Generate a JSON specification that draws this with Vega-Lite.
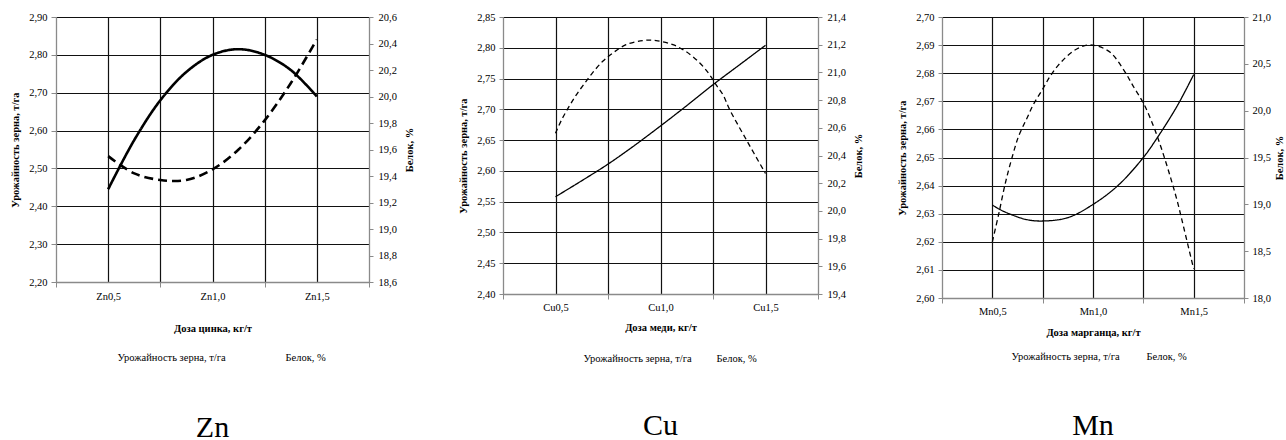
{
  "$schema": "https://vega.github.io/schema/vega-lite/v6.json",
  "background": "white",
  "padding": {"left": 10, "top": 12, "right": 0, "bottom": 0},
  "spacing": 33,
  "datasets": {
    "zn": [
      {"x": 0.5, "s": "Урожайность зерна, т/га", "v": 2.445},
      {"x": 0.625, "s": "Урожайность зерна, т/га", "v": 2.575},
      {"x": 0.75, "s": "Урожайность зерна, т/га", "v": 2.68},
      {"x": 0.875, "s": "Урожайность зерна, т/га", "v": 2.755},
      {"x": 1.0, "s": "Урожайность зерна, т/га", "v": 2.8},
      {"x": 1.125, "s": "Урожайность зерна, т/га", "v": 2.815},
      {"x": 1.25, "s": "Урожайность зерна, т/га", "v": 2.8},
      {"x": 1.375, "s": "Урожайность зерна, т/га", "v": 2.76},
      {"x": 1.5, "s": "Урожайность зерна, т/га", "v": 2.69},
      {"x": 0.5, "s": "Белок, %", "v": 19.55},
      {"x": 0.625, "s": "Белок, %", "v": 19.42},
      {"x": 0.75, "s": "Белок, %", "v": 19.37},
      {"x": 0.875, "s": "Белок, %", "v": 19.37},
      {"x": 1.0, "s": "Белок, %", "v": 19.45},
      {"x": 1.125, "s": "Белок, %", "v": 19.6},
      {"x": 1.25, "s": "Белок, %", "v": 19.82},
      {"x": 1.375, "s": "Белок, %", "v": 20.1},
      {"x": 1.5, "s": "Белок, %", "v": 20.43}
    ],
    "cu": [
      {"x": 0.5, "s": "Урожайность зерна, т/га", "v": 2.558},
      {"x": 0.625, "s": "Урожайность зерна, т/га", "v": 2.584},
      {"x": 0.75, "s": "Урожайность зерна, т/га", "v": 2.611},
      {"x": 0.875, "s": "Урожайность зерна, т/га", "v": 2.641},
      {"x": 1.0, "s": "Урожайность зерна, т/га", "v": 2.673},
      {"x": 1.125, "s": "Урожайность зерна, т/га", "v": 2.706},
      {"x": 1.25, "s": "Урожайность зерна, т/га", "v": 2.74},
      {"x": 1.375, "s": "Урожайность зерна, т/га", "v": 2.772},
      {"x": 1.5, "s": "Урожайность зерна, т/га", "v": 2.804},
      {"x": 0.5, "s": "Белок, %", "v": 20.56},
      {"x": 0.53, "s": "Белок, %", "v": 20.66},
      {"x": 0.567, "s": "Белок, %", "v": 20.76},
      {"x": 0.6, "s": "Белок, %", "v": 20.84},
      {"x": 0.638, "s": "Белок, %", "v": 20.92},
      {"x": 0.678, "s": "Белок, %", "v": 21.0},
      {"x": 0.725, "s": "Белок, %", "v": 21.08},
      {"x": 0.773, "s": "Белок, %", "v": 21.14},
      {"x": 0.836, "s": "Белок, %", "v": 21.2},
      {"x": 0.916, "s": "Белок, %", "v": 21.23},
      {"x": 0.979, "s": "Белок, %", "v": 21.23},
      {"x": 1.059, "s": "Белок, %", "v": 21.2},
      {"x": 1.122, "s": "Белок, %", "v": 21.15},
      {"x": 1.186, "s": "Белок, %", "v": 21.07},
      {"x": 1.233, "s": "Белок, %", "v": 20.985},
      {"x": 1.265, "s": "Белок, %", "v": 20.91},
      {"x": 1.297, "s": "Белок, %", "v": 20.84},
      {"x": 1.33, "s": "Белок, %", "v": 20.73},
      {"x": 1.41, "s": "Белок, %", "v": 20.51},
      {"x": 1.5, "s": "Белок, %", "v": 20.27}
    ],
    "mn": [
      {"x": 0.5, "s": "Урожайность зерна, т/га", "v": 2.6331},
      {"x": 0.54, "s": "Урожайность зерна, т/га", "v": 2.6314},
      {"x": 0.59, "s": "Урожайность зерна, т/га", "v": 2.6298},
      {"x": 0.67, "s": "Урожайность зерна, т/га", "v": 2.6279},
      {"x": 0.75, "s": "Урожайность зерна, т/га", "v": 2.6274},
      {"x": 0.875, "s": "Урожайность зерна, т/га", "v": 2.6286},
      {"x": 1.0, "s": "Урожайность зерна, т/га", "v": 2.6333},
      {"x": 1.125, "s": "Урожайность зерна, т/га", "v": 2.6401},
      {"x": 1.25, "s": "Урожайность зерна, т/га", "v": 2.65},
      {"x": 1.318, "s": "Урожайность зерна, т/га", "v": 2.6569},
      {"x": 1.417, "s": "Урожайность зерна, т/га", "v": 2.6682},
      {"x": 1.5, "s": "Урожайность зерна, т/га", "v": 2.6795},
      {"x": 0.5, "s": "Белок, %", "v": 18.6},
      {"x": 0.531, "s": "Белок, %", "v": 18.89},
      {"x": 0.565, "s": "Белок, %", "v": 19.23},
      {"x": 0.598, "s": "Белок, %", "v": 19.5},
      {"x": 0.631, "s": "Белок, %", "v": 19.73},
      {"x": 0.672, "s": "Белок, %", "v": 19.92},
      {"x": 0.705, "s": "Белок, %", "v": 20.07},
      {"x": 0.75, "s": "Белок, %", "v": 20.23},
      {"x": 0.788, "s": "Белок, %", "v": 20.37},
      {"x": 0.838, "s": "Белок, %", "v": 20.51},
      {"x": 0.905, "s": "Белок, %", "v": 20.64},
      {"x": 0.972, "s": "Белок, %", "v": 20.7},
      {"x": 1.021, "s": "Белок, %", "v": 20.69},
      {"x": 1.087, "s": "Белок, %", "v": 20.62},
      {"x": 1.154, "s": "Белок, %", "v": 20.43},
      {"x": 1.203, "s": "Белок, %", "v": 20.25},
      {"x": 1.253, "s": "Белок, %", "v": 20.07},
      {"x": 1.303, "s": "Белок, %", "v": 19.82},
      {"x": 1.344, "s": "Белок, %", "v": 19.57},
      {"x": 1.386, "s": "Белок, %", "v": 19.28},
      {"x": 1.419, "s": "Белок, %", "v": 19.03},
      {"x": 1.452, "s": "Белок, %", "v": 18.74},
      {"x": 1.5, "s": "Белок, %", "v": 18.31}
    ]
  },
  "hconcat": [
    {
      "spacing": 43,
      "resolve": {"scale": {"strokeDash": "independent"}, "legend": {"strokeDash": "independent"}},
      "hconcat": [
        {
          "width": 313, "height": 265,
          "data": {"name": "zn"},
          "title": {"text": "Zn", "orient": "bottom", "anchor": "middle", "font": "Liberation Serif", "fontSize": 30, "fontWeight": "normal", "color": "black", "offset": 48.5},
          "encoding": {
            "x": {"field": "x", "type": "quantitative", "scale": {"domain": [0.25, 1.75], "nice": false, "zero": false},
              "axis": {"values": [0.25, 0.5, 0.75, 1, 1.25, 1.5, 1.75],
                "labelExpr": "(datum.value*4)%2==0 ? 'Zn'+replace(format(datum.value,'.1f'),'.',',') : ''",
                "title": "Доза цинка, кг/т", "titlePadding": 22, "grid": true,
                "gridOpacity": {"condition": {"test": "datum.value==0.25||datum.value==1.75", "value": 0}, "value": 1},
                "tickOpacity": {"condition": {"test": "(datum.value*4)%2==0", "value": 0}, "value": 1},
                "tickSize": 5, "labelPadding": 4}}
          },
          "layer": [
            {
              "transform": [{"filter": "datum.s=='Урожайность зерна, т/га'"}],
              "mark": {"type": "line", "interpolate": "catmull-rom", "color": "black", "strokeWidth": 2.6},
              "encoding": {
                "y": {"field": "v", "type": "quantitative", "scale": {"domain": [2.2, 2.9], "nice": false, "zero": false},
                  "axis": {"orient": "left", "values": [2.2, 2.3, 2.4, 2.5, 2.6, 2.7, 2.8, 2.9], "labelExpr": "replace(format(datum.value,'.2f'),'.',',')",
                    "title": "Урожайность зерна, т/га", "titlePadding": 8, "grid": true, "tickSize": 5, "labelPadding": 4}},
                "strokeDash": {"field": "s", "type": "nominal", "scale": {"domain": ["Урожайность зерна, т/га", "Белок, %"], "range": [[1, 0], [9, 5]]},
                  "legend": {"orient": "none", "legendX": 51, "legendY": 336, "direction": "horizontal", "title": null, "columnPadding": 49, "symbolSize": 0, "symbolStrokeWidth": 0, "symbolOpacity": 0, "labelOffset": 0, "padding": 0}}
              }
            },
            {
              "transform": [{"filter": "datum.s=='Белок, %'"}],
              "mark": {"type": "line", "interpolate": "catmull-rom", "color": "black", "strokeWidth": 2.6},
              "encoding": {
                "y": {"field": "v", "type": "quantitative", "scale": {"domain": [18.6, 20.6], "nice": false, "zero": false},
                  "axis": {"orient": "right", "values": [18.6, 18.8, 19.0, 19.2, 19.4, 19.6, 19.8, 20.0, 20.2, 20.4, 20.6], "labelExpr": "replace(format(datum.value,'.1f'),'.',',')",
                    "title": "Белок, %", "titleAngle": 270, "titleBaseline": "top", "titlePadding": 8, "grid": false, "tickSize": 4, "labelPadding": 5}},
                "strokeDash": {"field": "s", "type": "nominal"}
              }
            }
          ],
          "resolve": {"scale": {"y": "independent"}}
        },
        {
          "width": 315, "height": 277,
          "data": {"name": "cu"},
          "title": {"text": "Cu", "orient": "bottom", "anchor": "middle", "font": "Liberation Serif", "fontSize": 30, "fontWeight": "normal", "color": "black", "offset": 45.5},
          "encoding": {
            "x": {"field": "x", "type": "quantitative", "scale": {"domain": [0.25, 1.75], "nice": false, "zero": false},
              "axis": {"values": [0.25, 0.5, 0.75, 1, 1.25, 1.5, 1.75],
                "labelExpr": "(datum.value*4)%2==0 ? 'Cu'+replace(format(datum.value,'.1f'),'.',',') : ''",
                "title": "Доза меди, кг/т", "titlePadding": 10, "grid": true,
                "gridOpacity": {"condition": {"test": "datum.value==0.25||datum.value==1.75", "value": 0}, "value": 1},
                "tickOpacity": {"condition": {"test": "(datum.value*4)%2==0", "value": 0}, "value": 1},
                "tickSize": 5, "labelPadding": 3}}
          },
          "layer": [
            {
              "transform": [{"filter": "datum.s=='Урожайность зерна, т/га'"}],
              "mark": {"type": "line", "interpolate": "catmull-rom", "color": "black", "strokeWidth": 1.3},
              "encoding": {
                "y": {"field": "v", "type": "quantitative", "scale": {"domain": [2.4, 2.85], "nice": false, "zero": false},
                  "axis": {"orient": "left", "values": [2.4, 2.45, 2.5, 2.55, 2.6, 2.65, 2.7, 2.75, 2.8, 2.85], "labelExpr": "replace(format(datum.value,'.2f'),'.',',')",
                    "title": "Урожайность зерна, т/га", "titlePadding": 8, "grid": true, "tickSize": 4, "labelPadding": 4}},
                "strokeDash": {"field": "s", "type": "nominal", "scale": {"domain": ["Урожайность зерна, т/га", "Белок, %"], "range": [[1, 0], [5, 3.5]]},
                  "legend": {"orient": "none", "legendX": 70, "legendY": 337, "direction": "horizontal", "title": null, "columnPadding": 14, "symbolSize": 0, "symbolStrokeWidth": 0, "symbolOpacity": 0, "labelOffset": 0, "padding": 0}}
              }
            },
            {
              "transform": [{"filter": "datum.s=='Белок, %'"}],
              "mark": {"type": "line", "interpolate": "catmull-rom", "color": "black", "strokeWidth": 1.3},
              "encoding": {
                "y": {"field": "v", "type": "quantitative", "scale": {"domain": [19.4, 21.4], "nice": false, "zero": false},
                  "axis": {"orient": "right", "values": [19.4, 19.6, 19.8, 20.0, 20.2, 20.4, 20.6, 20.8, 21.0, 21.2, 21.4], "labelExpr": "replace(format(datum.value,'.1f'),'.',',')",
                    "title": "Белок, %", "titleAngle": 270, "titleBaseline": "top", "titlePadding": 8, "grid": false, "tickSize": 4, "labelPadding": 5}},
                "strokeDash": {"field": "s", "type": "nominal"}
              }
            }
          ],
          "resolve": {"scale": {"y": "independent"}}
        }
      ]
    },
    {
      "width": 302, "height": 281,
      "data": {"name": "mn"},
      "title": {"text": "Mn", "orient": "bottom", "anchor": "middle", "font": "Liberation Serif", "fontSize": 30, "fontWeight": "normal", "color": "black", "offset": 47.5},
      "encoding": {
        "x": {"field": "x", "type": "quantitative", "scale": {"domain": [0.25, 1.75], "nice": false, "zero": false},
          "axis": {"values": [0.25, 0.5, 0.75, 1, 1.25, 1.5, 1.75],
            "labelExpr": "(datum.value*4)%2==0 ? 'Mn'+replace(format(datum.value,'.1f'),'.',',') : ''",
            "title": "Доза марганца, кг/т", "titlePadding": 11, "grid": true,
            "gridOpacity": {"condition": {"test": "datum.value==0.25||datum.value==1.75", "value": 0}, "value": 1},
            "tickOpacity": {"condition": {"test": "(datum.value*4)%2==0", "value": 0}, "value": 1},
            "tickSize": 5, "labelPadding": 3}}
      },
      "layer": [
        {
          "transform": [{"filter": "datum.s=='Урожайность зерна, т/га'"}],
          "mark": {"type": "line", "interpolate": "catmull-rom", "color": "black", "strokeWidth": 1.3},
          "encoding": {
            "y": {"field": "v", "type": "quantitative", "scale": {"domain": [2.6, 2.7], "nice": false, "zero": false},
              "axis": {"orient": "left", "values": [2.6, 2.61, 2.62, 2.63, 2.64, 2.65, 2.66, 2.67, 2.68, 2.69, 2.7], "labelExpr": "replace(format(datum.value,'.2f'),'.',',')",
                "title": "Урожайность зерна, т/га", "titlePadding": 8, "grid": true, "tickSize": 4, "labelPadding": 4}},
            "strokeDash": {"field": "s", "type": "nominal", "scale": {"domain": ["Урожайность зерна, т/га", "Белок, %"], "range": [[1, 0], [5, 3.5]]},
              "legend": {"orient": "none", "legendX": 59, "legendY": 335, "direction": "horizontal", "title": null, "columnPadding": 16, "symbolSize": 0, "symbolStrokeWidth": 0, "symbolOpacity": 0, "labelOffset": 0, "padding": 0}}
          }
        },
        {
          "transform": [{"filter": "datum.s=='Белок, %'"}],
          "mark": {"type": "line", "interpolate": "catmull-rom", "color": "black", "strokeWidth": 1.3},
          "encoding": {
            "y": {"field": "v", "type": "quantitative", "scale": {"domain": [18.0, 21.0], "nice": false, "zero": false},
              "axis": {"orient": "right", "values": [18.0, 18.5, 19.0, 19.5, 20.0, 20.5, 21.0], "labelExpr": "replace(format(datum.value,'.1f'),'.',',')",
                "title": "Белок, %", "titleAngle": 270, "titleBaseline": "top", "titlePadding": 4, "grid": false, "tickSize": 4, "labelPadding": 4}},
            "strokeDash": {"field": "s", "type": "nominal"}
          }
        }
      ],
      "resolve": {"scale": {"y": "independent"}}
    }
  ],
  "resolve": {"scale": {"strokeDash": "independent"}, "legend": {"strokeDash": "independent"}},
  "config": {
    "view": {"stroke": null},
    "axis": {
      "labelFont": "Liberation Serif", "labelFontSize": 10.5, "labelColor": "black",
      "titleFont": "Liberation Serif", "titleFontSize": 10.5, "titleFontWeight": "bold", "titleColor": "black",
      "domainColor": "#8a8a8a", "domainWidth": 1.3, "tickColor": "#8a8a8a", "tickWidth": 1,
      "gridColor": "#111111", "gridWidth": 1.2
    },
    "legend": {"labelFont": "Liberation Serif", "labelFontSize": 10.5, "labelColor": "black"}
  }
}
